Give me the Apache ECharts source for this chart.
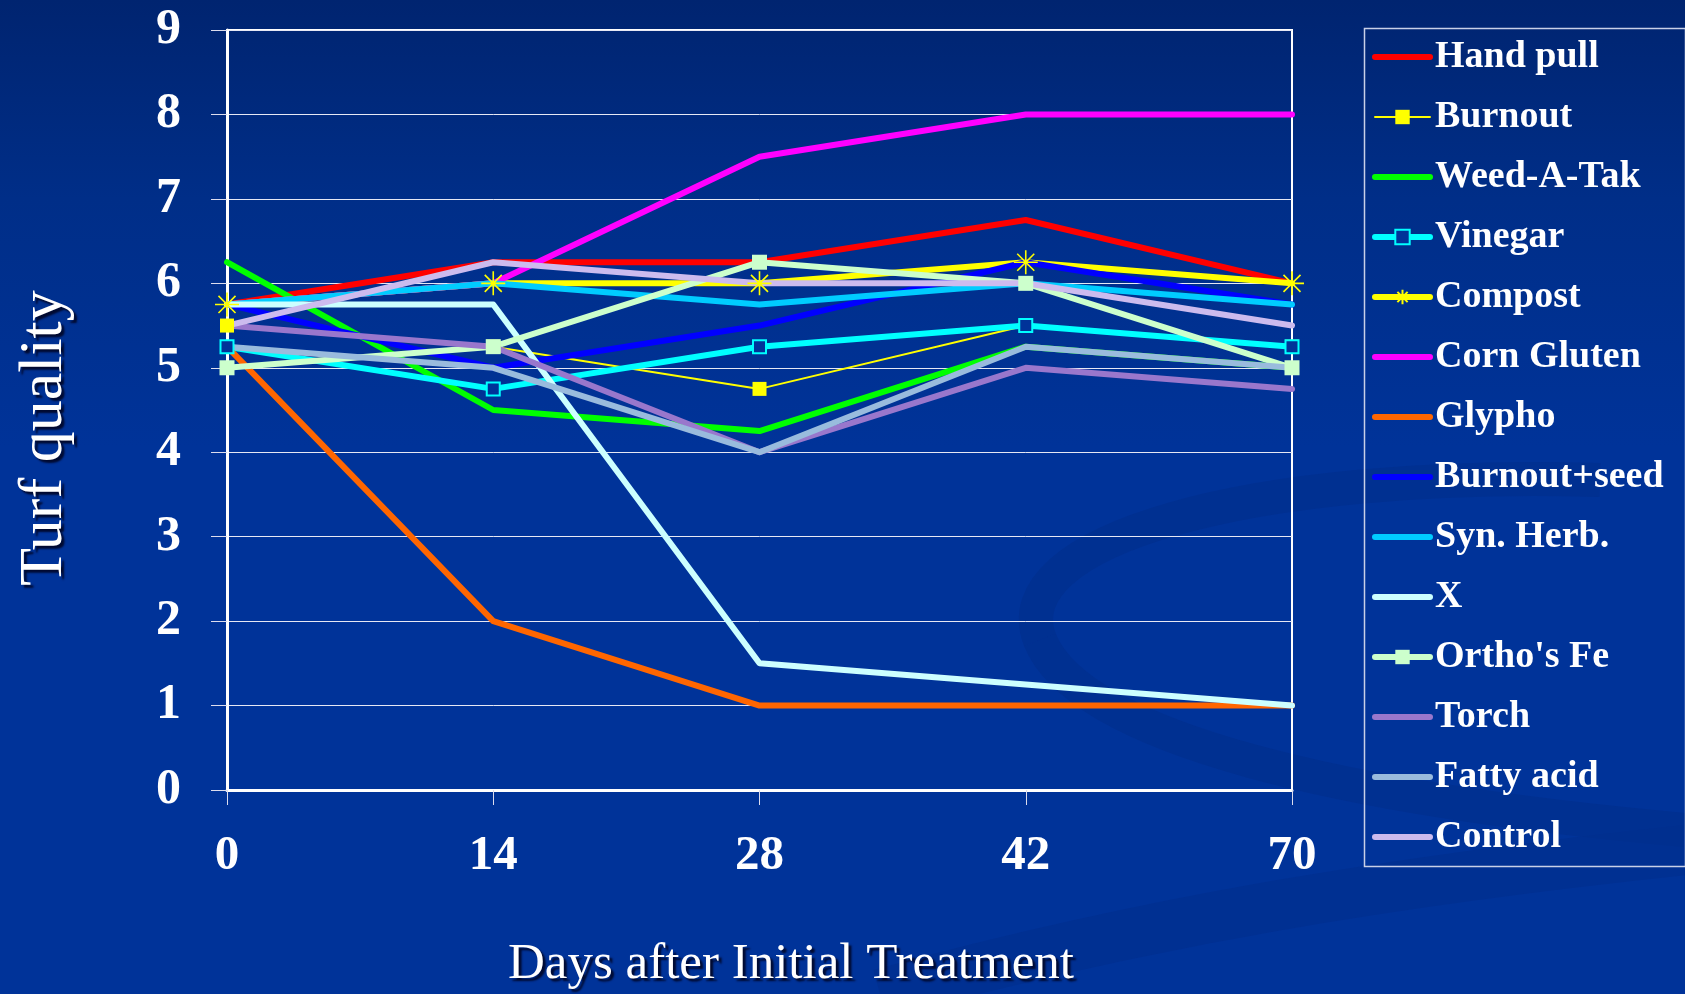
<!DOCTYPE html>
<html><head><meta charset="utf-8">
<script src="https://cdn.jsdelivr.net/npm/echarts@6/dist/echarts.min.js"></script>
<style>html,body{margin:0;padding:0;background:#003399;}#c{width:1685px;height:994px;}</style>
</head><body><div id="c"></div>
<script>
const days = ['0', '14', '28', '42', '70'];
const yTicks = [0, 1, 2, 3, 4, 5, 6, 7, 8, 9];
const handPull    = [5.75, 6.25, 6.25, 6.75, 6.0];
const burnout     = [5.5, 5.25, 4.75, 5.5, 5.25];
const weedATak    = [6.25, 4.5, 4.25, 5.25, 5.0];
const vinegar     = [5.25, 4.75, 5.25, 5.5, 5.25];
const compost     = [5.75, 6.0, 6.0, 6.25, 6.0];
const cornGluten  = [5.75, 6.0, 7.5, 8.0, 8.0];
const glypho      = [5.25, 2.0, 1.0, 1.0, 1.0];
const burnoutSeed = [5.75, 5.0, 5.5, 6.25, 5.75];
const synHerb     = [5.75, 6.0, 5.75, 6.0, 5.75];
const xSeries     = [5.75, 5.75, 1.5, 1.25, 1.0];
const orthoFe     = [5.0, 5.25, 6.25, 6.0, 5.0];
const torch       = [5.5, 5.25, 4.0, 5.0, 4.75];
const fattyAcid   = [5.25, 5.0, 4.0, 5.25, 5.0];
const control     = [5.5, 6.25, 6.0, 6.0, 5.5];

const BG = '#003399';
const STAR = 'path://M10,0L10,20M0,10L20,10M2.9,2.9L17.1,17.1M2.9,17.1L17.1,2.9';

function mk(name, data, color, width, symbol, size, fill) {
  return {
    name: name, type: 'line', data: data,
    symbol: symbol || 'none', symbolSize: size || 0, showSymbol: !!symbol,
    lineStyle: { color: color, width: width, cap: 'round', join: 'round' },
    itemStyle: { color: fill || color, borderColor: color, borderWidth: symbol ? 2 : 0 },
    emphasis: { disabled: true }, animation: false
  };
}

const series = [
  mk('Hand pull', handPull, '#ff0000', 6),
  mk('Burnout', burnout, '#ffff00', 2, 'rect', 14),
  mk('Weed-A-Tak', weedATak, '#00ff00', 6),
  mk('Vinegar', vinegar, '#00ffff', 6, 'rect', 13, BG),
  mk('Compost', compost, '#ffff00', 6, STAR, 24),
  mk('Corn Gluten', cornGluten, '#ff00ff', 6),
  mk('Glypho', glypho, '#ff6600', 6),
  mk('Burnout+seed', burnoutSeed, '#0000ff', 6),
  mk('Syn. Herb.', synHerb, '#00ccff', 6),
  mk('X', xSeries, '#ccffff', 6),
  mk("Ortho's Fe", orthoFe, '#ccffcc', 6, 'rect', 15),
  mk('Torch', torch, '#9977cc', 6),
  mk('Fatty acid', fattyAcid, '#99bbdd', 6),
  mk('Control', control, '#ccbbee', 6)
];
series[1].itemStyle.borderWidth = 0;
series[10].itemStyle.borderWidth = 0;
series[4].itemStyle.borderWidth = 1.6;

const legendData = series.map(s => {
  const d = { name: s.name };
  if (s.name === 'Burnout') d.lineStyle = { width: 2 };
  if (!s.showSymbol) d.itemStyle = { opacity: 0, color: 'transparent', borderWidth: 0 };
  return d;
});

const swoosh = { fill: 'none', stroke: '#002f8e', lineWidth: 34, opacity: 0.8 };
const serif = "'Liberation Serif', 'DejaVu Serif', serif";
const chart = echarts.init(document.getElementById('c'));
chart.setOption({
  backgroundColor: {
    type: 'linear', x: 0, y: 0, x2: 0, y2: 1,
    colorStops: [{ offset: 0, color: '#002470' }, { offset: 0.2, color: '#002e88' }, { offset: 0.45, color: '#003399' }, { offset: 1, color: '#003399' }]
  },
  animation: false,
  grid: { left: 227, right: 393, top: 30, bottom: 204, show: true, borderColor: '#ffffff', borderWidth: 2, backgroundColor: 'transparent' },
  xAxis: {
    type: 'category', data: days, boundaryGap: false,
    axisLine: { lineStyle: { color: '#ffffff', width: 3 } },
    axisTick: { show: true, length: 15, lineStyle: { color: '#dde', width: 1 } },
    axisLabel: { color: '#ffffff', fontFamily: serif, fontWeight: 'bold', fontSize: 49, margin: 42 },
    splitLine: { show: false }
  },
  yAxis: {
    type: 'value', min: yTicks[0], max: yTicks[yTicks.length - 1], interval: 1,
    axisLine: { show: true, lineStyle: { color: '#ffffff', width: 3 } },
    axisTick: { show: true, length: 16, lineStyle: { color: '#dde', width: 1 } },
    axisLabel: { color: '#ffffff', fontFamily: serif, fontWeight: 'bold', fontSize: 50, margin: 46 },
    splitLine: { show: true, lineStyle: { color: '#e6e8f4', width: 1 } }
  },
  legend: {
    orient: 'vertical', left: 1372, top: 37, padding: 0,
    itemWidth: 55, itemHeight: 18, itemGap: 20,
    data: legendData,
    lineStyle: { width: 6, cap: 'round' },
    textStyle: { color: '#ffffff', fontFamily: serif, fontWeight: 'bold', fontSize: 38, lineHeight: 40 },
    selectedMode: false
  },
  graphic: [
    { type: 'bezierCurve', z: -10, silent: true,
      shape: { x1: 1600, y1: 480, cpx1: 1250, cpy1: 470, cpx2: 1000, cpy2: 540, x2: 1040, y2: 640 }, style: swoosh },
    { type: 'bezierCurve', z: -10, silent: true,
      shape: { x1: 1040, y1: 640, cpx1: 1080, cpy1: 740, cpx2: 1350, cpy2: 800, x2: 1685, y2: 830 }, style: swoosh },
    { type: 'bezierCurve', z: -10, silent: true,
      shape: { x1: 880, y1: 994, cpx1: 1150, cpy1: 920, cpx2: 1400, cpy2: 880, x2: 1685, y2: 850 },
      style: { fill: 'none', stroke: '#002f8e', lineWidth: 50, opacity: 0.7 } },
    { type: 'rect', left: 1362, top: 26, shape: { width: 321, height: 838 }, style: { fill: 'none', stroke: '#c8d0e8', lineWidth: 1.5 }, silent: true },
    { type: 'text', x: 45, y: 438, rotation: Math.PI / 2,
      style: { text: 'Turf quality', fill: '#ffffff', font: "62px 'Liberation Serif', serif", textAlign: 'center', textVerticalAlign: 'middle',
               textShadowColor: '#000a30', textShadowOffsetX: 3, textShadowOffsetY: 3, textShadowBlur: 2 } },
    { type: 'text', x: 791, y: 965,
      style: { text: 'Days after Initial Treatment', fill: '#ffffff', font: "51px 'Liberation Serif', serif", textAlign: 'center', textVerticalAlign: 'middle',
               textShadowColor: '#000a30', textShadowOffsetX: 3, textShadowOffsetY: 3, textShadowBlur: 2 } }
  ],
  series: series
});
</script></body></html>
